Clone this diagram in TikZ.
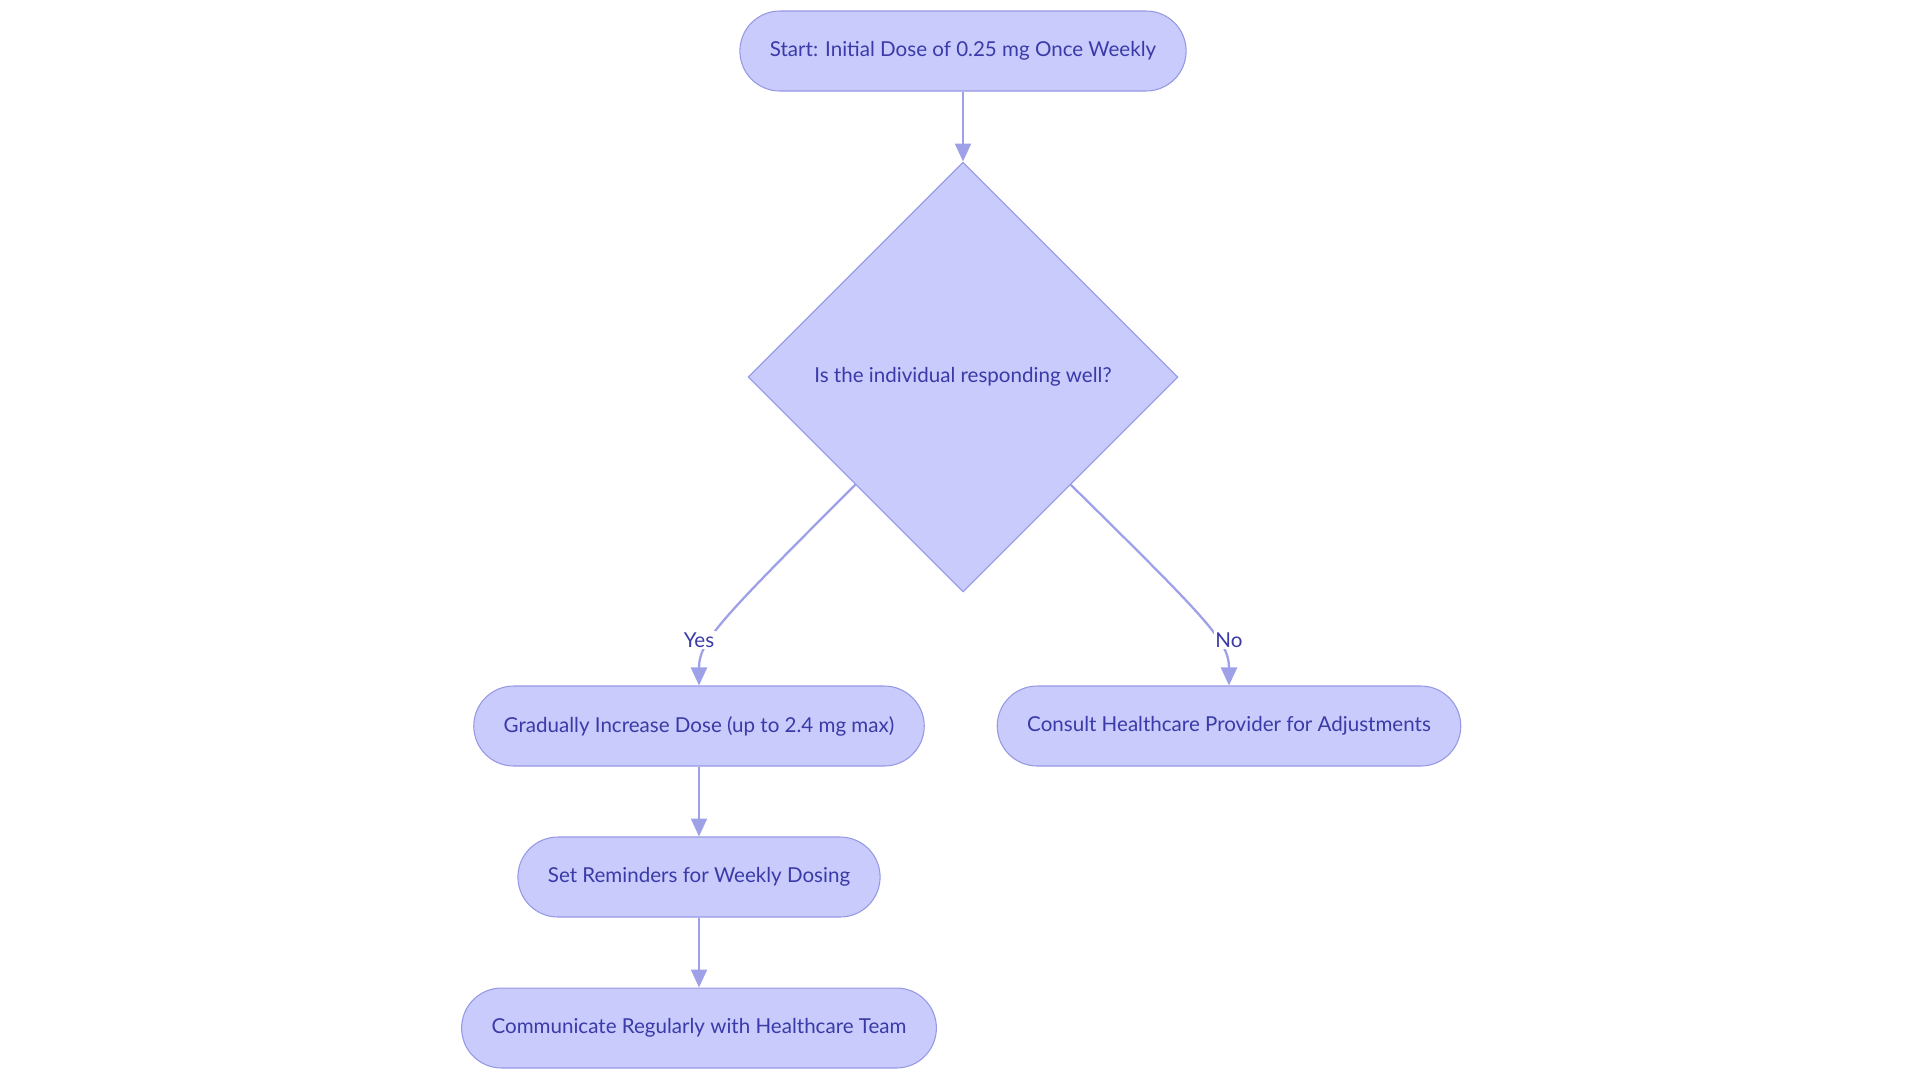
\documentclass[tikz,border=0pt]{standalone}
\usepackage{fontspec}
\setmainfont{Lato}
\usetikzlibrary{shapes.geometric,arrows.meta}
\definecolor{boxfill}{RGB}{200,203,251}
\definecolor{boxline}{RGB}{150,152,228}
\definecolor{boxtext}{RGB}{58,58,168}
\definecolor{arrowline}{RGB}{158,161,232}
\tikzset{
  stepnode/.style={draw=boxline, line width=0.6pt, fill=boxfill, text=boxtext, rounded corners=0.8cm, minimum height=1.6cm, inner xsep=0.6cm, font=\fontsize{11.7}{14}\selectfont},
  decision/.style={diamond, draw=boxline, line width=0.6pt, fill=boxfill, text=boxtext, minimum size=8.6cm, inner sep=0pt, font=\fontsize{11.7}{14}\selectfont},
  flow/.style={draw=arrowline, line width=1.3pt, -{Triangle[length=0.36cm,width=0.32cm]}},
  answer/.style={fill=white, text=boxtext, inner sep=1pt, font=\fontsize{11.7}{14}\selectfont}
}
\begin{document}
\begin{tikzpicture}[x=0.02cm,y=-0.02cm]
\useasboundingbox (0,0) rectangle (1920,1083);
\node[stepnode] (st) at (963,51) {Start: Initial Dose of 0.25 mg Once Weekly};
\node[decision] (d) at (963,377) {Is the individual responding well?};
\node[stepnode] (gr) at (699,726) {Gradually Increase Dose (up to 2.4 mg max)};
\node[stepnode] (co) at (1229,726) {Consult Healthcare Provider for Adjustments};
\node[stepnode] (sr) at (699,877) {Set Reminders for Weekly Dosing};
\node[stepnode] (cm) at (699,1028) {Communicate Regularly with Healthcare Team};
\draw[flow] (st.south) -- (d.north);
\draw[flow] (d.south west) .. controls (718,622) and (699,642) .. (gr.north);
\node[answer] (yes) at (699,640) {Yes};
\draw[flow] (d.south east) .. controls (1210,622) and (1229,642) .. (co.north);
\node[answer] (no) at (1229,640) {No};
\draw[flow] (gr.south) -- (sr.north);
\draw[flow] (sr.south) -- (cm.north);
\end{tikzpicture}
\end{document}
